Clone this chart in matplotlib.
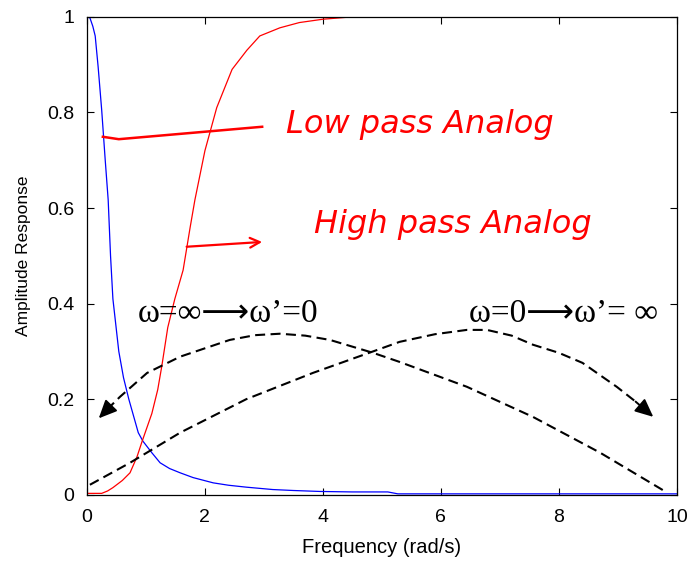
import matplotlib.pyplot as plt

# low pass (blue) analog response
lp_x = [0, 0.05, 0.1, 0.14, 0.19, 0.25, 0.31, 0.36, 0.4, 0.44, 0.54, 0.62, 0.71, 0.87,
        0.95, 1.1, 1.24, 1.4, 1.58, 1.8, 2.14, 2.4, 2.7, 3.15, 3.5, 3.95, 4.5, 5.1, 5.27,
        6, 7, 8, 9, 10]
lp_y = [1.0, 0.998, 0.98, 0.96, 0.895, 0.805, 0.70, 0.617, 0.50, 0.41, 0.30, 0.245, 0.20,
        0.13, 0.112, 0.088, 0.067, 0.055, 0.046, 0.036, 0.025, 0.02, 0.016, 0.011, 0.009,
        0.007, 0.006, 0.006, 0.002, 0.002, 0.002, 0.002, 0.002, 0.002]

# high pass (red) analog response
hp_x = [0, 0.25, 0.35, 0.44, 0.6, 0.73, 0.85, 0.93, 1.1, 1.2, 1.27, 1.37, 1.49, 1.63,
        1.75, 1.83, 2.0, 2.2, 2.33, 2.46, 2.71, 2.93, 3.27, 3.6, 4.0, 4.4, 5, 6, 7, 8, 9, 10]
hp_y = [0.003, 0.003, 0.008, 0.015, 0.03, 0.046, 0.08, 0.11, 0.17, 0.22, 0.27, 0.35, 0.41,
        0.47, 0.56, 0.617, 0.72, 0.81, 0.85, 0.89, 0.93, 0.96, 0.977, 0.988, 0.995, 0.999,
        1.0, 1.0, 1.0, 1.0, 1.0, 1.0]

# dashed mapping arcs
arc1_x = [0.05, 0.73, 1.58, 2.7, 3.83, 4.85, 5.3, 5.9, 6.44, 6.78, 7.2, 7.56, 8.0, 8.4,
          8.98, 9.3]
arc1_y = [0.021, 0.067, 0.13, 0.20, 0.255, 0.30, 0.32, 0.336, 0.345, 0.345, 0.333, 0.314,
          0.297, 0.276, 0.226, 0.195]
arc1_tip = (9.6, 0.163)

arc2_x = [9.76, 8.7, 7.56, 6.44, 5.3, 4.85, 4.12, 3.7, 3.27, 2.85, 2.42, 1.58, 1.02, 0.56,
          0.42]
arc2_y = [0.01, 0.088, 0.163, 0.226, 0.278, 0.297, 0.324, 0.333, 0.337, 0.334, 0.324,
          0.289, 0.255, 0.205, 0.188]
arc2_tip = (0.2, 0.16)

# hand drawn pointers
lp_pointer_x = [0.27, 0.54, 2.97]
lp_pointer_y = [0.749, 0.744, 0.77]
hp_pointer = ((1.69, 0.519), (2.97, 0.529))

fig = plt.figure(figsize=(6.9, 5.61), dpi=100)
ax = fig.add_axes([0.126, 0.118, 0.855, 0.852])

ax.plot(lp_x, lp_y, color="blue", lw=0.9)
ax.plot(hp_x, hp_y, color="red", lw=0.9)

ax.plot(arc1_x, arc1_y, "k--", lw=1.5, dashes=(4.8, 2.6))
ax.plot(arc2_x, arc2_y, "k--", lw=1.5, dashes=(4.8, 2.6))
head = dict(arrowstyle="-|>,head_length=1.1,head_width=0.5", color="k", lw=1.4,
            shrinkA=0, shrinkB=0)
ax.annotate("", xy=arc1_tip, xytext=(arc1_x[-1], arc1_y[-1]), arrowprops=head)
ax.annotate("", xy=arc2_tip, xytext=(arc2_x[-1], arc2_y[-1]), arrowprops=head)

ax.plot(lp_pointer_x, lp_pointer_y, color="red", lw=1.8)
ax.annotate("", xy=hp_pointer[1], xytext=hp_pointer[0],
            arrowprops=dict(arrowstyle="->,head_length=0.7,head_width=0.35",
                            color="red", lw=1.6, shrinkA=0, shrinkB=0))

ax.text(5.64, 0.775, "Low pass Analog", color="red", fontsize=23, style="italic",
        family="DejaVu Sans", ha="center", va="center")
ax.text(6.2, 0.565, "High pass Analog", color="red", fontsize=23, style="italic",
        family="DejaVu Sans", ha="center", va="center")

serif = ["Liberation Serif", "DejaVu Sans"]
ax.text(2.39, 0.379, "ω=∞⟶ω’=0", fontsize=24, family=serif,
        ha="center", va="center")
ax.text(8.07, 0.379, "ω=0⟶ω’= ∞", fontsize=24, family=serif,
        ha="center", va="center")

ax.set_xlim(0, 10)
ax.set_ylim(0, 1)
ax.set_xticks([0, 2, 4, 6, 8, 10])
ax.set_yticks([0, 0.2, 0.4, 0.6, 0.8, 1])
ax.set_yticklabels(["0", "0.2", "0.4", "0.6", "0.8", "1"])
ax.tick_params(direction="in", top=True, right=True, labelsize=14, length=5)
ax.tick_params(axis="x", pad=10)
ax.tick_params(axis="y", pad=9)
for lab in ax.get_xticklabels() + ax.get_yticklabels():
    lab.set_family("Liberation Sans")
for s in ax.spines.values():
    s.set_linewidth(0.9)

ax.set_xlabel("Frequency (rad/s)", fontsize=14.5, family="Liberation Sans", labelpad=9)
ax.set_ylabel("Amplitude Response", fontsize=12.5, family="Liberation Sans", labelpad=12)

fig.savefig("out.png", dpi=100)
